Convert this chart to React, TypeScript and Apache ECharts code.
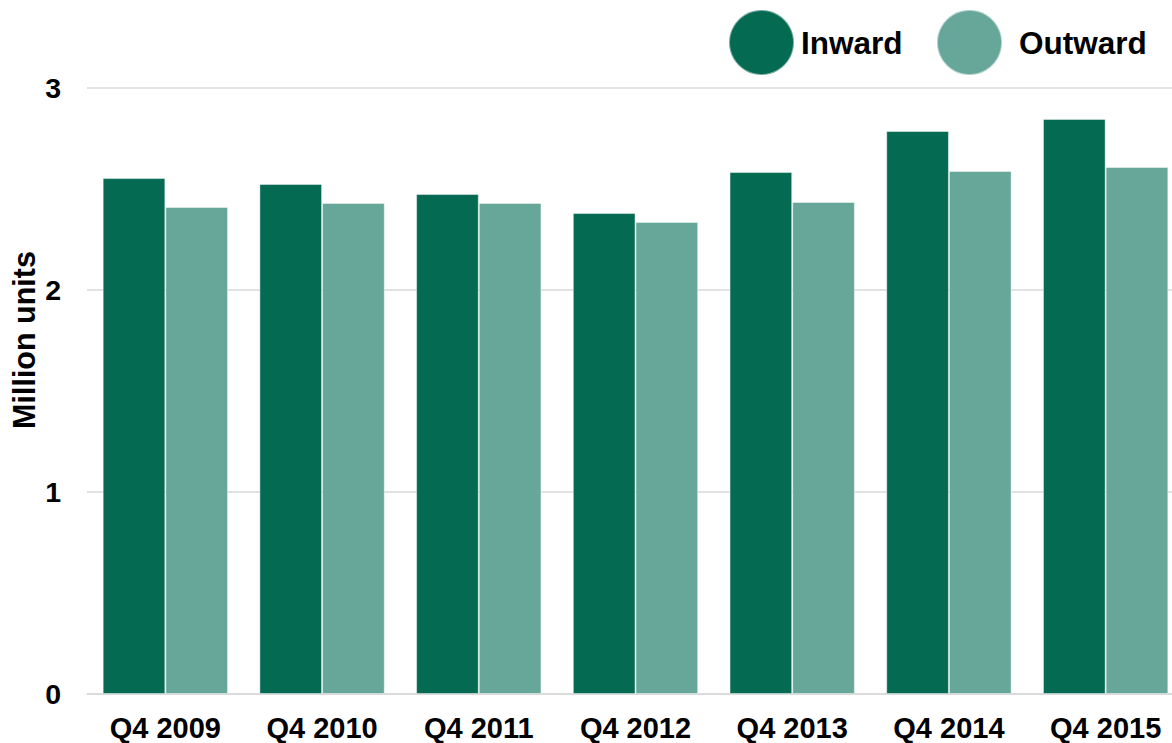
import React, { useEffect, useRef } from "react";
import * as echarts from "echarts";

const categories = ["Q4 2009", "Q4 2010", "Q4 2011", "Q4 2012", "Q4 2013", "Q4 2014", "Q4 2015"];
const inward = [2.554, 2.525, 2.475, 2.381, 2.584, 2.787, 2.847];
const outward = [2.411, 2.431, 2.431, 2.337, 2.436, 2.589, 2.609];
const yTicks = { min: 0, max: 3, interval: 1 };

const FONT = "'Liberation Sans', Arial, Helvetica, sans-serif";

const legendText = { fontSize: 31.5, fontWeight: "bold", color: "#000", fontFamily: FONT };

export default function App() {
  const ref = useRef<HTMLDivElement>(null);
  useEffect(() => {
    if (!ref.current) return;
    const chart = echarts.init(ref.current, undefined, { renderer: "svg" });
    chart.setOption({
      animation: false,
      backgroundColor: "#ffffff",
      textStyle: { fontFamily: FONT },
      legend: [
        {
          left: 728,
          top: 9,
          padding: 0,
          icon: "circle",
          itemWidth: 65,
          itemHeight: 65,
          textStyle: { ...legendText, padding: [0, 0, 0, 2] },
          data: ["Inward"],
        },
        {
          left: 936,
          top: 9,
          padding: 0,
          icon: "circle",
          itemWidth: 65,
          itemHeight: 65,
          textStyle: { ...legendText, padding: [0, 0, 0, 12] },
          data: ["Outward"],
        },
      ],
      graphic: [
        {
          type: "text",
          x: 24,
          y: 340,
          rotation: Math.PI / 2,
          style: {
            text: "Million units",
            fontSize: 30.5,
            fontWeight: "bold",
            fontFamily: FONT,
            fill: "#000",
            textAlign: "center",
            textVerticalAlign: "middle",
          },
        },
      ],
      grid: { left: 87, right: 0, top: 88, bottom: 49, containLabel: false },
      xAxis: {
        type: "category",
        data: categories,
        axisTick: { show: false },
        axisLine: { show: true, lineStyle: { color: "#d9d9d9", width: 1.5 } },
        axisLabel: { fontSize: 29, fontWeight: "bold", color: "#000", margin: 19, fontFamily: FONT },
      },
      yAxis: {
        type: "value",
        min: yTicks.min,
        max: yTicks.max,
        interval: yTicks.interval,
        axisLine: { show: false },
        axisTick: { show: false },
        splitLine: { lineStyle: { color: "#d9d9d9", width: 1.5 } },
        axisLabel: { fontSize: 28.5, fontWeight: "bold", color: "#000", margin: 26, fontFamily: FONT },
      },
      series: [
        {
          name: "Inward",
          type: "bar",
          data: inward,
          barGap: "0%",
          barCategoryGap: "20%",
          itemStyle: { color: "#046A52", borderColor: "rgba(255,255,255,0.45)", borderWidth: 1 },
        },
        {
          name: "Outward",
          type: "bar",
          data: outward,
          barGap: "0%",
          barCategoryGap: "20%",
          itemStyle: { color: "#67A79A", borderColor: "rgba(255,255,255,0.45)", borderWidth: 1 },
        },
      ],
    });
    return () => chart.dispose();
  }, []);
  return (
    <div style={{ position: "fixed", left: 0, top: 0, width: 1172, height: 743, overflow: "hidden" }}>
      <div ref={ref} style={{ position: "absolute", left: 0, top: 0, width: 1184, height: 743 }} />
    </div>
  );
}
